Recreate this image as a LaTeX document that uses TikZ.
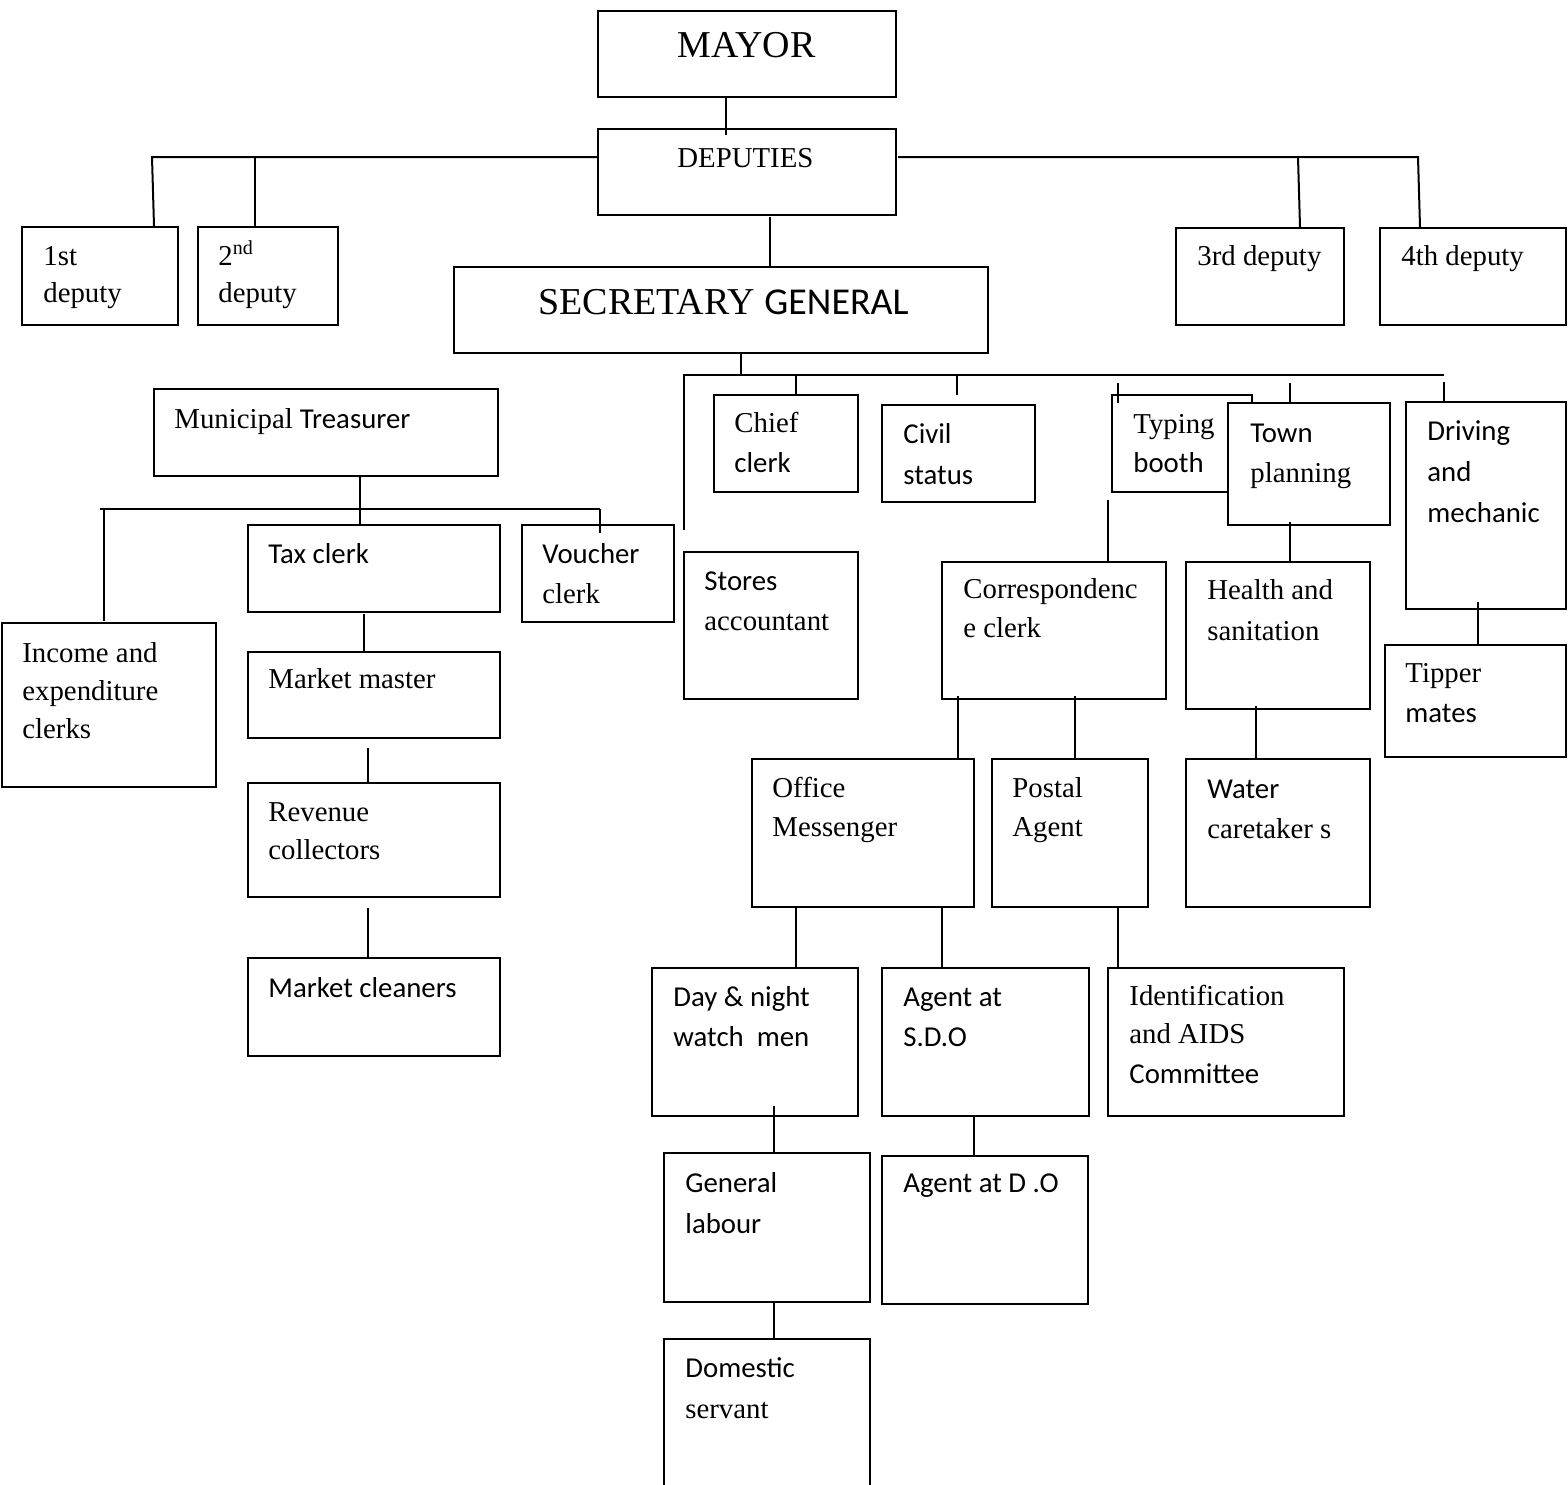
\documentclass[tikz,border=0pt]{standalone}
\usepackage{fontspec}
\usetikzlibrary{fit}
\newfontfamily\fT{Liberation Serif}
\newfontfamily\fC{Carlito}
\tikzset{
  box/.style={draw, line width=1pt, inner sep=0pt, fill=white},
  conn/.style={line width=1pt},
  txt/.style={anchor=base west, inner sep=0pt, font=\fT\fontsize{14.4}{17}\selectfont},
  big/.style={anchor=base west, inner sep=0pt, font=\fT\fontsize{19}{22}\selectfont}
}
\begin{document}
\begin{tikzpicture}[x=0.5pt,y=-0.5pt]
\useasboundingbox (0,0) rectangle (1568,1484);
\clip (0,0) rectangle (1568,1484);
% ---------- boxes ----------
\node[box, fit={(598,11) (896,97)}] (mayor) {};
\node[box, fit={(598,129) (896,215)}] (deps) {};
\node[box, fit={(22,227) (178,325)}] (d1) {};
\node[box, fit={(198,227) (338,325)}] (d2) {};
\node[box, fit={(1176,228) (1344,325)}] (d3) {};
\node[box, fit={(1380,228) (1566,325)}] (d4) {};
\node[box, fit={(454,267) (988,353)}] (sg) {};
\node[box, fit={(154,389) (498,476)}] (treas) {};
\node[box, fit={(248,525) (500,612)}] (tax) {};
\node[box, fit={(522,525) (674,622)}] (vouch) {};
\node[box, fit={(2,623) (216,787)}] (income) {};
\node[box, fit={(248,652) (500,738)}] (mmaster) {};
\node[box, fit={(248,783) (500,897)}] (revenue) {};
\node[box, fit={(248,958) (500,1056)}] (cleaners) {};
\node[box, fit={(714,395) (858,492)}] (chief) {};
\node[box, fit={(882,405) (1035,502)}] (civil) {};
\node[box, fit={(1112,395) (1252,492)}] (typing) {};
\node[box, fit={(1228,403) (1390,525)}] (town) {};
\node[box, fit={(1406,402) (1566,609)}] (driving) {};
\node[box, fit={(684,552) (858,699)}] (stores) {};
\node[box, fit={(942,562) (1166,699)}] (corr) {};
\node[box, fit={(1186,562) (1370,709)}] (health) {};
\node[box, fit={(1385,645) (1566,757)}] (tipper) {};
\node[box, fit={(752,759) (974,907)}] (office) {};
\node[box, fit={(992,759) (1148,907)}] (postal) {};
\node[box, fit={(1186,759) (1370,907)}] (water) {};
\node[box, fit={(652,968) (858,1116)}] (daynight) {};
\node[box, fit={(882,968) (1089,1116)}] (sdo) {};
\node[box, fit={(1108,968) (1344,1116)}] (ident) {};
\node[box, fit={(664,1153) (870,1302)}] (labour) {};
\node[box, fit={(882,1156) (1088,1304)}] (do) {};
\node[box, fit={(664,1339) (870,1510)}] (domestic) {};
% ---------- junction coordinates ----------
\coordinate (dbL) at (152,157);
\coordinate (dbL2) at (255,157);
\coordinate (dbR) at (1418,157);
\coordinate (dbR2) at (1298,157);
\coordinate (sgbus) at (741,375);
\coordinate (sgL) at (684,375);
\coordinate (sgR) at (1444,375);
\coordinate (sgLend) at (684,530);
\coordinate (tbus) at (360,509);
\coordinate (tbL) at (100,509);
\coordinate (tbR) at (600,509);
% ---------- connectors ----------
\draw[conn] (726,0 |- mayor.south) -- (726,135);
\draw[conn] (deps.west |- dbL) -- (dbL) -- (154,0 |- d1.north);
\draw[conn] (dbL2) -- (255,0 |- d2.north);
\draw[conn] (898,157) -- (dbR) -- (1420,0 |- d4.north);
\draw[conn] (dbR2) -- (1300,0 |- d3.north);
\draw[conn] (770,217) -- (770,0 |- sg.north);
\draw[conn] (741,0 |- sg.south) -- (sgbus);
\draw[conn] (sgLend) -- (sgL) -- (sgR);
\draw[conn] (796,375) -- (796,0 |- chief.north);
\draw[conn] (957,375) -- (957,395);
\draw[conn] (1118,383) -- (1118,403);
\draw[conn] (1290,383) -- (1290,0 |- town.north);
\draw[conn] (1444,382) -- (1444,0 |- driving.north);
\draw[conn] (1108,500) -- (1108,0 |- corr.north);
\draw[conn] (1290,522) -- (1290,0 |- health.north);
\draw[conn] (1478,602) -- (1478,0 |- tipper.north);
\draw[conn] (958,696) -- (958,0 |- office.north);
\draw[conn] (1075,696) -- (1075,0 |- postal.north);
\draw[conn] (1256,706) -- (1256,0 |- water.north);
\draw[conn] (796,0 |- office.south) -- (796,0 |- daynight.north);
\draw[conn] (942,0 |- office.south) -- (942,0 |- sdo.north);
\draw[conn] (1118,0 |- postal.south) -- (1118,0 |- ident.north);
\draw[conn] (774,1106) -- (774,0 |- labour.north);
\draw[conn] (974,0 |- sdo.south) -- (974,0 |- do.north);
\draw[conn] (774,0 |- labour.south) -- (774,0 |- domestic.north);
\draw[conn] (360,0 |- treas.south) -- (360,0 |- tax.north);
\draw[conn] (tbL) -- (tbR);
\draw[conn] (104,509) -- (104,621);
\draw[conn] (tbR) -- (600,533);
\draw[conn] (364,614) -- (364,0 |- mmaster.north);
\draw[conn] (368,748) -- (368,0 |- revenue.north);
\draw[conn] (368,908) -- (368,0 |- cleaners.north);
% ---------- texts ----------
\node[big] (mayorT) at (677,57) {MAYOR};
\node[txt] (depsT) at (677,167) {DEPUTIES};
\node[txt] (d1a) at (43,265) {1st};
\node[txt] (d1b) at (43,302) {deputy};
\node[txt] (d2a) at (218,265) {2\textsuperscript{nd}};
\node[txt] (d2b) at (218,302) {deputy};
\node[txt] (d3a) at (1197,265) {3rd deputy};
\node[txt] (d4a) at (1401,265) {4th deputy};
\node[big] (sgT) at (538,314) {SECRETARY {\fC GENERAL}};
\node[txt] (treasT) at (174,428) {Municipal {\fC Treasurer}};
\node[txt] (taxT) at (268,563) {\fC Tax clerk};
\node[txt] (vouchA) at (542,563) {\fC Voucher};
\node[txt] (vouchB) at (542,603) {clerk};
\node[txt] (incA) at (22,662) {Income and};
\node[txt] (incB) at (22,700) {expenditure};
\node[txt] (incC) at (22,738) {clerks};
\node[txt] (mmT) at (268,688) {Market master};
\node[txt] (revA) at (268,821) {Revenue};
\node[txt] (revB) at (268,859) {collectors};
\node[txt] (clnT) at (268,997) {\fC Market cleaners};
\node[txt] (chiefA) at (734,432) {Chief};
\node[txt] (chiefB) at (734,472) {\fC clerk};
\node[txt] (civA) at (903,443) {\fC Civil};
\node[txt] (civB) at (903,484) {\fC status};
\node[txt] (typA) at (1133,433) {Typing};
\node[txt] (typB) at (1133,472) {\fC booth};
\node[txt] (townA) at (1250,442) {\fC Town};
\node[txt] (townB) at (1250,482) {planning};
\node[txt] (drvA) at (1427,440) {\fC Driving};
\node[txt] (drvB) at (1427,481) {\fC and};
\node[txt] (drvC) at (1427,522) {\fC mechanic};
\node[txt] (stoA) at (704,590) {\fC Stores};
\node[txt] (stoB) at (704,630) {accountant};
\node[txt] (corA) at (963,598) {Correspondenc};
\node[txt] (corB) at (963,637) {e clerk};
\node[txt] (heaA) at (1207,599) {Health and};
\node[txt] (heaB) at (1207,640) {sanitation};
\node[txt] (tipA) at (1405,682) {Tipper};
\node[txt] (tipB) at (1405,722) {\fC mates};
\node[txt] (offA) at (772,797) {Office};
\node[txt] (offB) at (772,836) {Messenger};
\node[txt] (posA) at (1012,797) {Postal};
\node[txt] (posB) at (1012,836) {Agent};
\node[txt] (watA) at (1207,798) {\fC Water};
\node[txt] (watB) at (1207,838) {caretaker s};
\node[txt] (dnA) at (673,1006) {\fC Day \& night};
\node[txt] (dnB) at (673,1046) {\fC watch\ \ men};
\node[txt] (sdoA) at (903,1006) {\fC Agent at};
\node[txt] (sdoB) at (903,1046) {\fC S.D.O};
\node[txt] (idA) at (1129,1005) {Identification};
\node[txt] (idB) at (1129,1043) {and AIDS};
\node[txt] (idC) at (1129,1083) {\fC Committee};
\node[txt] (labA) at (685,1192) {\fC General};
\node[txt] (labB) at (685,1233) {\fC labour};
\node[txt] (doT) at (903,1192) {\fC Agent at D .O};
\node[txt] (domA) at (685,1377) {\fC Domestic};
\node[txt] (domB) at (685,1418) {servant};
\end{tikzpicture}
\end{document}
